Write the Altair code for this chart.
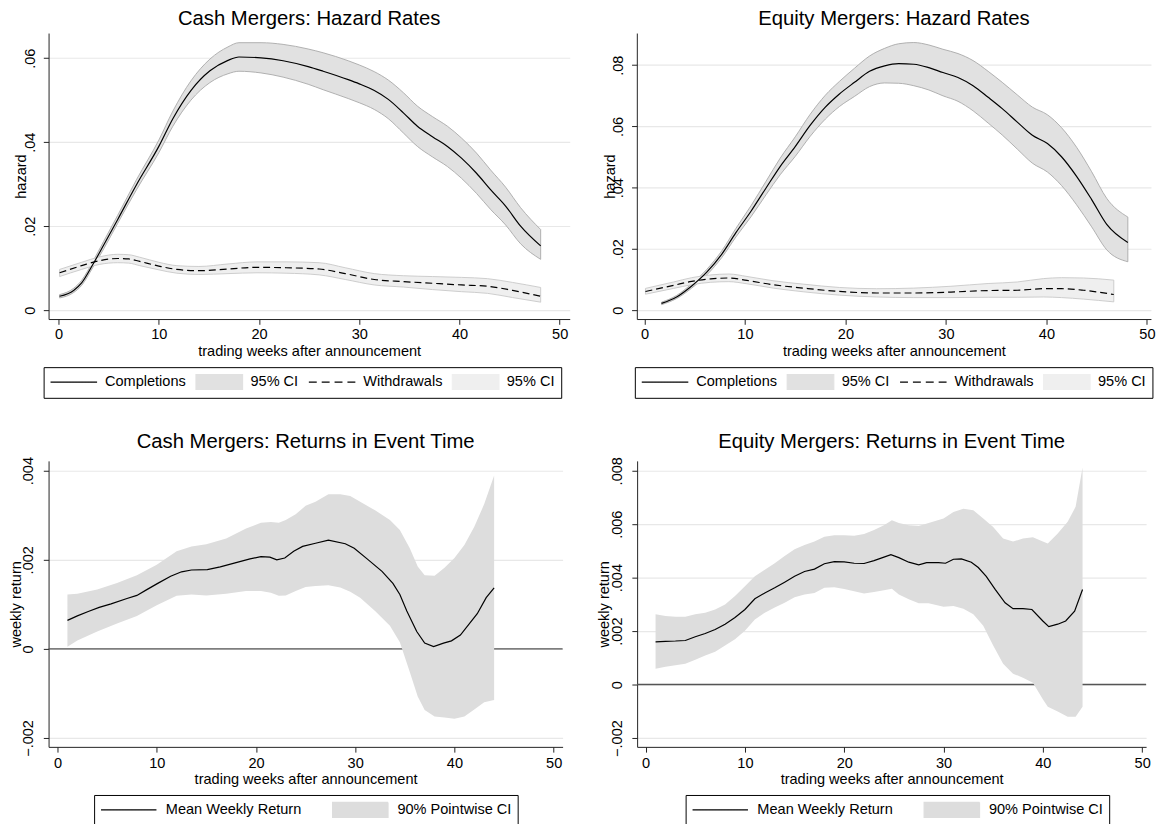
import altair as alt
import pandas as pd

FONT = "Liberation Sans"
WEEK_TICKS = [0, 10, 20, 30, 40, 50]
X_TITLE = "trading weeks after announcement"
ZERO_LINE = [0]

# ---------------- Cash mergers: hazard rates ----------------
cash_comp_x = [0.1, 1.5, 2.3, 3.4, 4.5, 5.9, 7.8, 10, 11.4, 13.2, 15.1, 16.9, 18, 20.2, 22.4, 24.9,
               26.4, 28.9, 30, 31.5, 32.9, 34.4, 35.8, 37.3, 38.8, 40.2, 41.7, 43.1, 44.6, 46.1, 48.1]
cash_comp_mid = [0.0033, 0.0047, 0.0065, 0.0108, 0.0155, 0.0216, 0.0300, 0.0390, 0.0456, 0.0523,
                 0.0570, 0.0595, 0.0603, 0.0601, 0.0594, 0.0580, 0.0569, 0.0549, 0.0539, 0.0523,
                 0.0502, 0.0470, 0.0438, 0.0413, 0.0390, 0.0362, 0.0326, 0.0287, 0.0248, 0.0200, 0.0153]
cash_comp_hi = [0.0037, 0.0052, 0.0071, 0.0115, 0.0164, 0.0226, 0.0312, 0.0405, 0.0474, 0.0546,
                0.0598, 0.0627, 0.0637, 0.0637, 0.0633, 0.0622, 0.0613, 0.0594, 0.0584, 0.0568,
                0.0548, 0.0518, 0.0486, 0.0461, 0.0438, 0.0410, 0.0374, 0.0334, 0.0293, 0.0244, 0.0192]
cash_comp_lo = [0.0029, 0.0042, 0.0059, 0.0101, 0.0146, 0.0207, 0.0288, 0.0375, 0.0438, 0.0500,
                0.0542, 0.0563, 0.0569, 0.0565, 0.0555, 0.0538, 0.0525, 0.0504, 0.0494, 0.0478,
                0.0456, 0.0422, 0.0390, 0.0365, 0.0342, 0.0314, 0.0278, 0.0240, 0.0203, 0.0158, 0.0121]

cash_wd_x = [0.1, 2.3, 4.1, 5.9, 7, 8.1, 10, 11.8, 14, 16.9, 19.8, 22.7, 26, 28.6, 31.5, 34.4,
             37.3, 40.2, 42.8, 45.3, 48.1]
cash_wd_mid = [0.0089, 0.0106, 0.0118, 0.0123, 0.0122, 0.0116, 0.0105, 0.0097, 0.0094, 0.0098,
               0.0102, 0.0101, 0.0098, 0.0087, 0.0073, 0.0068, 0.0064, 0.0060, 0.0057, 0.0047, 0.0033]
cash_wd_hi = [0.0097, 0.0114, 0.0127, 0.0133, 0.0132, 0.0126, 0.0114, 0.0106, 0.0104, 0.0110,
              0.0115, 0.0115, 0.0113, 0.0101, 0.0087, 0.0082, 0.0080, 0.0078, 0.0075, 0.0066, 0.0054]
cash_wd_lo = [0.0080, 0.0097, 0.0109, 0.0113, 0.0112, 0.0106, 0.0096, 0.0088, 0.0085, 0.0087,
              0.0089, 0.0088, 0.0084, 0.0073, 0.0060, 0.0055, 0.0049, 0.0044, 0.0040, 0.0030, 0.0019]

# ---------------- Equity mergers: hazard rates ----------------
eq_comp_x = [1.7, 3.2, 4.7, 6.2, 7.7, 9.1, 10.6, 12.1, 13.5, 15, 16.5, 18, 19.4, 20.9, 22.4, 23.9,
             25.3, 26.8, 28.3, 29.7, 31.2, 32.7, 34.2, 35.6, 37.1, 38.6, 40.1, 41.5, 43, 44.5, 46, 48.1]
eq_comp_mid = [0.0022, 0.0043, 0.0079, 0.0124, 0.0183, 0.0253, 0.0323, 0.0399, 0.0469, 0.0534,
               0.0604, 0.0663, 0.0706, 0.0744, 0.0780, 0.0798, 0.0805, 0.0803, 0.0792, 0.0776,
               0.0760, 0.0733, 0.0695, 0.0658, 0.0614, 0.0571, 0.0544, 0.0501, 0.0437, 0.0361,
               0.0280, 0.0221]
eq_comp_hi = [0.0026, 0.0048, 0.0086, 0.0133, 0.0194, 0.0267, 0.0341, 0.0421, 0.0496, 0.0566,
              0.0640, 0.0702, 0.0747, 0.0790, 0.0830, 0.0855, 0.0870, 0.0874, 0.0866, 0.0852,
              0.0838, 0.0815, 0.0780, 0.0744, 0.0703, 0.0663, 0.0638, 0.0596, 0.0532, 0.0452,
              0.0365, 0.0304]
eq_comp_lo = [0.0018, 0.0038, 0.0072, 0.0115, 0.0172, 0.0239, 0.0305, 0.0377, 0.0442, 0.0502,
              0.0568, 0.0624, 0.0665, 0.0698, 0.0730, 0.0742, 0.0741, 0.0733, 0.0719, 0.0700,
              0.0682, 0.0651, 0.0611, 0.0572, 0.0526, 0.0480, 0.0451, 0.0407, 0.0344, 0.0272,
              0.0197, 0.0158]

eq_wd_x = [0.1, 2.9, 4.7, 6.6, 8.4, 10.2, 12.8, 15.8, 19.4, 23.1, 26.8, 30.5, 34.2, 37.1, 39.7,
           41.5, 43.7, 46.7]
eq_wd_mid = [0.0061, 0.0081, 0.0094, 0.0102, 0.0105, 0.0097, 0.0083, 0.0072, 0.0061, 0.0056,
             0.0056, 0.0059, 0.0064, 0.0065, 0.0070, 0.0070, 0.0065, 0.0051]
eq_wd_hi = [0.0071, 0.0092, 0.0106, 0.0115, 0.0118, 0.0110, 0.0096, 0.0085, 0.0074, 0.0070,
            0.0072, 0.0078, 0.0087, 0.0092, 0.0103, 0.0106, 0.0105, 0.0098]
eq_wd_lo = [0.0052, 0.0071, 0.0083, 0.0091, 0.0093, 0.0086, 0.0072, 0.0060, 0.0049, 0.0043,
            0.0041, 0.0041, 0.0042, 0.0042, 0.0043, 0.0041, 0.0036, 0.0027]

# ---------------- Cash mergers: returns in event time ----------------
cash_ret_x = [1, 2, 3.1, 4.2, 5.4, 7, 8, 9, 10.1, 11.4, 12.5, 13.5, 15.1, 16.4, 17.9, 19.4, 20.5,
              21.4, 22.1, 22.9, 23.8, 24.7, 26, 27.3, 29, 29.9, 31.2, 32.7, 33.8, 34.5, 35.2, 36.2,
              37, 37.9, 38.9, 39.7, 40.6, 42.3, 43.2, 44]
cash_ret_mean = [0.00064, 0.00074, 0.00084, 0.00093, 0.00101, 0.00113, 0.00120, 0.00133, 0.00147,
                 0.00163, 0.00173, 0.00177, 0.00178, 0.00184, 0.00193, 0.00202, 0.00207, 0.00206,
                 0.00200, 0.00204, 0.00219, 0.00230, 0.00237, 0.00244, 0.00236, 0.00226, 0.00202,
                 0.00174, 0.00147, 0.00122, 0.00085, 0.00039, 0.00013, 0.00005, 0.00013, 0.00018,
                 0.00031, 0.00079, 0.00115, 0.00137]
cash_ci_x = [1, 2, 4, 6, 8, 10, 12, 13.5, 15, 17, 19, 20.5, 21.5, 22.3, 23, 24, 25, 26, 27.3, 28.5,
             29.5, 30.5, 32, 33.5, 34.5, 35.5, 36.3, 37, 38, 39, 40, 41, 42, 43, 44]
cash_ci_hi = [0.00122, 0.00124, 0.00133, 0.00148, 0.00165, 0.00189, 0.00219, 0.00230, 0.00235,
              0.00248, 0.00270, 0.00283, 0.00285, 0.00283, 0.00289, 0.00302, 0.00321, 0.00330,
              0.00347, 0.00347, 0.00343, 0.00330, 0.00311, 0.00289, 0.00267, 0.00226, 0.00185,
              0.00165, 0.00164, 0.00182, 0.00204, 0.00233, 0.00274, 0.00325, 0.00389]
cash_ci_lo = [0.00005, 0.00019, 0.00039, 0.00057, 0.00074, 0.00098, 0.00119, 0.00122, 0.00120,
              0.00124, 0.00130, 0.00130, 0.00126, 0.00119, 0.00120, 0.00130, 0.00139, 0.00141,
              0.00143, 0.00138, 0.00128, 0.00115, 0.00085, 0.00052, 0.00015, -0.00052, -0.00107,
              -0.00137, -0.00152, -0.00154, -0.00157, -0.00152, -0.00136, -0.00120, -0.00115]

# ---------------- Equity mergers: returns in event time ----------------
eq_ret_x = [1, 2, 3, 4, 5, 6, 7, 8, 9, 10, 11, 12, 13, 14, 15, 16, 17, 18, 19, 20, 21, 22, 23, 24,
            24.7, 25.5, 26.5, 27.5, 28.3, 29.5, 30.2, 31, 31.8, 32.8, 33.5, 34.3, 35.2, 36.2, 37,
            38, 38.9, 40, 40.6, 41.5, 42.3, 43.2, 44]
eq_ret_mean = [0.00160, 0.00162, 0.00163, 0.00165, 0.00179, 0.00191, 0.00206, 0.00226, 0.00251,
               0.00281, 0.00321, 0.00343, 0.00362, 0.00383, 0.00405, 0.00423, 0.00432, 0.00452,
               0.00460, 0.00459, 0.00454, 0.00453, 0.00464, 0.00477, 0.00486, 0.00475, 0.00458,
               0.00448, 0.00456, 0.00456, 0.00454, 0.00469, 0.00470, 0.00458, 0.00438, 0.00405,
               0.00356, 0.00306, 0.00284, 0.00284, 0.00281, 0.00238, 0.00217, 0.00226, 0.00238,
               0.00275, 0.00356]
eq_ci_x = [1, 2, 3, 4, 5, 6, 7, 8, 9, 10, 11, 12, 13, 14, 15, 16, 17, 18, 19, 20, 21, 22, 23, 24,
           24.8, 25.5, 26.5, 27.5, 28.5, 30, 31, 32, 33, 34, 35, 36, 37, 38, 39, 40, 40.5, 41.5,
           42.5, 43.3, 44]
eq_ci_hi = [0.00263, 0.00257, 0.00254, 0.00254, 0.00263, 0.00269, 0.00281, 0.00300, 0.00331,
            0.00368, 0.00405, 0.00430, 0.00454, 0.00481, 0.00506, 0.00522, 0.00535, 0.00553,
            0.00559, 0.00559, 0.00557, 0.00563, 0.00578, 0.00596, 0.00615, 0.00605, 0.00596,
            0.00593, 0.00605, 0.00621, 0.00646, 0.00658, 0.00652, 0.00621, 0.00590, 0.00547,
            0.00535, 0.00547, 0.00551, 0.00535, 0.00528, 0.00565, 0.00609, 0.00665, 0.00812]
eq_ci_lo = [0.00059, 0.00067, 0.00072, 0.00078, 0.00093, 0.00109, 0.00123, 0.00146, 0.00170,
            0.00201, 0.00244, 0.00269, 0.00288, 0.00306, 0.00327, 0.00337, 0.00343, 0.00362,
            0.00364, 0.00358, 0.00349, 0.00341, 0.00346, 0.00353, 0.00359, 0.00337, 0.00319,
            0.00304, 0.00304, 0.00291, 0.00294, 0.00284, 0.00263, 0.00220, 0.00146, 0.00078,
            0.00041, 0.00026, 0.00007, -0.00055, -0.00083, -0.00101, -0.00120, -0.00120, -0.00083]

# ---------------- legend entries ----------------
HAZ_KEYS = ["comp", "ci1", "wd", "ci2"]
HAZ_LABELS = "datum.value == 'comp' ? 'Completions' : (datum.value == 'wd' ? 'Withdrawals' : '95% CI')"
RET_KEYS = ["mean", "ci"]
RET_LABELS = "datum.value == 'mean' ? 'Mean Weekly Return' : '90% Pointwise CI'"

# ---------------- styling ----------------
COMP_FILL, COMP_EDGE = "#e1e1e1", "#a9a9a9"
WD_FILL, WD_EDGE = "#efefef", "#c8c8c8"
RET_FILL = "#dddddd"
LINE_W = 1.2
DASH = [7, 4]

YFMT = "datum.value == 0 ? '0' : replace(format(datum.value, '.3~f'), '0.', '.')"

# legend key shapes (line keys carry invisible move-to points so every key has the same box)
LINE_47 = "M-2.94,-0.94M-2.94,0.94M-2.94,0H2.94"
RECT_47 = "M-2.94,-0.94H2.94V0.94H-2.94Z"
LINE_56 = "M-3.5,-0.94M-3.5,0.94M-3.5,0H3.5"
RECT_56 = "M-3.5,-0.94H3.5V0.94H-3.5Z"


def x_enc(field, dom, lp, tp):
    return alt.X(f"{field}:Q", scale=alt.Scale(domain=dom, nice=False, zero=False),
                 axis=alt.Axis(values=WEEK_TICKS, grid=False, labelFlush=False, labelOverlap=False,
                               labelPadding=lp, titlePadding=tp, format="d"),
                 title=X_TITLE)


def y_enc(field, dom, ticks, title, lp, tp):
    return alt.Y(f"{field}:Q", scale=alt.Scale(domain=dom, nice=False, zero=False),
                 axis=alt.Axis(values=ticks, grid=True, gridColor="#e8e8e8", gridWidth=1.2,
                               labelAngle=270, labelAlign="center", labelBaseline="bottom",
                               labelExpr=YFMT, labelFlush=False, labelOverlap=False,
                               labelPadding=lp, titlePadding=tp, minExtent=0),
                 title=title)


def legend_layer(keys, fills, strokes, shapes, dashes, label_expr, lx, ly, soff, loff, cpad):
    leg = alt.Legend(title=None, orient="none", legendX=lx, legendY=ly, direction="horizontal",
                     strokeColor="black", fillColor="white", padding=6, labelExpr=label_expr,
                     labelFont=FONT, labelFontSize=14.7, labelColor="black", labelOffset=loff,
                     symbolOffset=soff, columnPadding=cpad, symbolSize=256, symbolStrokeWidth=1.2,
                     symbolOpacity=1, labelLimit=0)
    df = pd.DataFrame({"key": keys})
    return alt.Chart(df).mark_point(filled=True, opacity=0).encode(
        fill=alt.Fill("key:N", scale=alt.Scale(domain=keys, range=fills), legend=leg),
        stroke=alt.Stroke("key:N", scale=alt.Scale(domain=keys, range=strokes), legend=leg),
        shape=alt.Shape("key:N", scale=alt.Scale(domain=keys, range=shapes), legend=leg),
        strokeDash=alt.StrokeDash("key:N", scale=alt.Scale(domain=keys, range=dashes), legend=leg),
    )


def hazard_panel(title, xdom, ydom, yticks, width, comp, wd, lx):
    cx, cm, chi, clo = comp
    wx, wm, whi, wlo = wd
    X = lambda f: x_enc(f, xdom, 2, 3)
    Y = lambda f: y_enc(f, ydom, yticks, "hazard", 6.4, -6.8)
    cband = alt.Chart(pd.DataFrame({"x": cx, "lo": clo, "hi": chi})).mark_area(
        fill=COMP_FILL, stroke=COMP_EDGE, strokeWidth=0.9, interpolate="monotone"
    ).encode(x=X("x"), y=Y("lo"), y2="hi:Q")
    wband = alt.Chart(pd.DataFrame({"x": wx, "lo": wlo, "hi": whi})).mark_area(
        fill=WD_FILL, stroke=WD_EDGE, strokeWidth=0.9, interpolate="monotone"
    ).encode(x=X("x"), y=Y("lo"), y2="hi:Q")
    cline = alt.Chart(pd.DataFrame({"x": cx, "y": cm})).mark_line(
        color="black", strokeWidth=LINE_W, interpolate="monotone"
    ).encode(x=X("x"), y=Y("y"))
    wline = alt.Chart(pd.DataFrame({"x": wx, "y": wm})).mark_line(
        color="black", strokeWidth=LINE_W, strokeDash=DASH, interpolate="monotone"
    ).encode(x=X("x"), y=Y("y"))
    leg = legend_layer(HAZ_KEYS, ["black", COMP_FILL, "black", WD_FILL],
                       ["black", COMP_FILL, "black", WD_FILL],
                       [LINE_47, RECT_47, LINE_47, RECT_47],
                       [[1, 0], [1, 0], [8, 5], [1, 0]], HAZ_LABELS, lx, 337.6, 15.5, 22.5, 7)
    return alt.layer(cband, wband, cline, wline, leg).properties(
        width=width, height=289, title=alt.TitleParams(title, offset=3.4))


def returns_panel(title, xdom, ydom, yticks, width, bx, blo, bhi, mx, mm, lx):
    X = lambda f: x_enc(f, xdom, 4, 1)
    Y = lambda f: y_enc(f, ydom, yticks, "weekly return", 7.9, -2.6)
    zero = alt.Chart(pd.DataFrame({"z": ZERO_LINE})).mark_rule(
        color="#555555", strokeWidth=1.5).encode(y=Y("z"))
    band = alt.Chart(pd.DataFrame({"x": bx, "lo": blo, "hi": bhi})).mark_area(
        fill=RET_FILL).encode(x=X("x"), y=Y("lo"), y2="hi:Q")
    line = alt.Chart(pd.DataFrame({"x": mx, "y": mm})).mark_line(
        color="black", strokeWidth=LINE_W).encode(x=X("x"), y=Y("y"))
    leg = legend_layer(RET_KEYS, ["black", RET_FILL], ["black", RET_FILL],
                       [LINE_56, RECT_56], [[1, 0], [1, 0]], RET_LABELS, lx, 337.6, 20, 28.5, 28)
    return alt.layer(zero, band, line, leg).properties(
        width=width, height=289, title=alt.TitleParams(title, offset=4))


tl = hazard_panel("Cash Mergers: Hazard Rates", [-1, 51], [-0.00212, 0.066],
                  [0, 0.02, 0.04, 0.06], 526.6,
                  (cash_comp_x, cash_comp_mid, cash_comp_hi, cash_comp_lo),
                  (cash_wd_x, cash_wd_mid, cash_wd_hi, cash_wd_lo), -5)
tr = hazard_panel("Equity Mergers: Hazard Rates", [-0.76, 50.4], [-0.00291, 0.0905],
                  [0, 0.02, 0.04, 0.06, 0.08], 519.5,
                  (eq_comp_x, eq_comp_mid, eq_comp_hi, eq_comp_lo),
                  (eq_wd_x, eq_wd_mid, eq_wd_hi, eq_wd_lo), -2)
bl = returns_panel("Cash Mergers: Returns in Event Time", [-0.9, 50.9], [-0.0022, 0.00422],
                   [-0.002, 0, 0.002, 0.004], 519.4,
                   cash_ci_x, cash_ci_lo, cash_ci_hi, cash_ret_x, cash_ret_mean, 46)
br = returns_panel("Equity Mergers: Returns in Event Time", [-0.857, 50.4], [-0.00233, 0.00837],
                   [-0.002, 0, 0.002, 0.004, 0.006, 0.008], 514.3,
                   eq_ci_x, eq_ci_lo, eq_ci_hi, eq_ret_x, eq_ret_mean, 49)

IND = dict(fill="independent", stroke="independent", shape="independent", strokeDash="independent")
row1 = alt.hconcat(tl, tr, spacing=32.4).resolve_scale(**IND)
row2 = alt.hconcat(bl, br, spacing=32.7).resolve_scale(**IND)

chart = alt.vconcat(
    row1, row2, spacing=33.3,
    padding={"left": 0, "top": -3, "right": 0, "bottom": 0}
).resolve_scale(**IND).configure(
    font=FONT
).configure_view(strokeWidth=0).configure_axis(
    labelFont=FONT, labelFontSize=14.7, labelColor="black",
    titleFont=FONT, titleFontSize=14.7, titleColor="black", titleFontWeight="normal",
    domainColor="#222222", tickColor="#222222", domainWidth=1, tickWidth=1, tickSize=5.3
).configure_title(
    font=FONT, fontSize=20.5, fontWeight="normal", color="black", anchor="middle",
    baseline="alphabetic"
)

chart.save("out.html", embed_options={"renderer": "svg", "actions": False})
